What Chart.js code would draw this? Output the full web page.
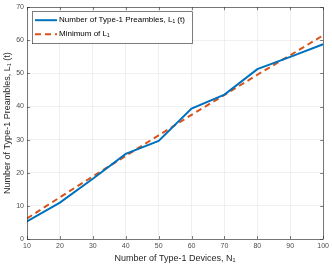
<!DOCTYPE html>
<html>
<head>
<meta charset="utf-8">
<script src="https://cdn.jsdelivr.net/npm/chart.js@4/dist/chart.umd.min.js"></script>
<style>
  html, body { margin: 0; padding: 0; background: #fff; }
  #wrap { width: 332px; height: 266px; position: relative; }
</style>
</head>
<body>
<div id="wrap"><canvas id="chart"></canvas></div>
<script>
// valeurs
const devices = [10, 20, 30, 40, 50, 60, 70, 80, 90, 100];
const preambles = [5.3, 11.0, 18.2, 25.7, 29.6, 39.4, 43.6, 51.3, 55.0, 58.8];
const minimumL1 = [6.2, 12.6, 18.9, 25.1, 31.3, 37.5, 43.5, 49.6, 55.5, 61.5];
const xTicks = [10, 20, 30, 40, 50, 60, 70, 80, 90, 100];
const yTicks = [0, 10, 20, 30, 40, 50, 60, 70];

const seriesNames = ['Number of Type-1 Preambles, L\u2081 (t)', 'Minimum of L\u2081'];

// cadre, petites graduations internes + légende façon MATLAB
const boxLegend = {
    id: 'boxLegend',
    afterDraw(chart) {
        const ctx = chart.ctx;
        const a = chart.chartArea;
        const sx = chart.scales.x, sy = chart.scales.y;
        ctx.save();
        ctx.strokeStyle = '#262626';
        ctx.lineWidth = 0.6;
        ctx.strokeRect(a.left + 0.5, a.top + 0.5, a.right - a.left, a.bottom - a.top);

        ctx.beginPath();
        xTicks.forEach(v => {
            const px = Math.round(sx.getPixelForValue(v)) + 0.5;
            ctx.moveTo(px, a.bottom); ctx.lineTo(px, a.bottom - 3);
            ctx.moveTo(px, a.top); ctx.lineTo(px, a.top + 3);
        });
        yTicks.forEach(v => {
            const py = Math.round(sy.getPixelForValue(v)) + 0.5;
            ctx.moveTo(a.left, py); ctx.lineTo(a.left + 3, py);
            ctx.moveTo(a.right, py); ctx.lineTo(a.right - 3, py);
        });
        ctx.stroke();

        const lx = a.left + 5, ly = a.top + 4, lw = 160, lh = 32;
        ctx.fillStyle = '#fff';
        ctx.fillRect(lx, ly, lw, lh);
        ctx.strokeStyle = '#262626';
        ctx.lineWidth = 0.6;
        ctx.strokeRect(lx + 0.5, ly + 0.5, lw, lh);

        ctx.font = '8px "Liberation Sans", Arial, sans-serif';
        ctx.textBaseline = 'middle';
        chart.data.datasets.forEach((ds, i) => {
            const y = ly + 9 + i * 14;
            ctx.beginPath();
            ctx.strokeStyle = ds.borderColor;
            ctx.lineWidth = 2;
            ctx.setLineDash(ds.borderDash || []);
            ctx.moveTo(lx + 3, y);
            ctx.lineTo(lx + 25, y);
            ctx.stroke();
            ctx.setLineDash([]);
            ctx.fillStyle = '#000';
            ctx.fillText(ds.label, lx + 27, y);
        });
        ctx.restore();
    }
};

new Chart(document.getElementById('chart'), {
    type: 'line',
    data: {
        labels: devices,
        datasets: [
            {
                label: seriesNames[0],
                data: devices.map((d, i) => ({ x: d, y: preambles[i] })),
                borderColor: '#0072BD',
                borderWidth: 2,
                pointRadius: 0,
                tension: 0,
                fill: false
            },
            {
                label: seriesNames[1],
                data: devices.map((d, i) => ({ x: d, y: minimumL1[i] })),
                borderColor: '#D95319',
                borderWidth: 2,
                borderDash: [6, 4],
                pointRadius: 0,
                tension: 0,
                fill: false
            }
        ]
    },
    options: {
        responsive: true,
        maintainAspectRatio: false,
        animation: false,
        layout: { padding: { left: 0, right: 7, top: 3, bottom: 2 } },
        plugins: {
            legend: { display: false },
            tooltip: { enabled: false }
        },
        scales: {
            x: {
                type: 'linear',
                min: 10,
                max: 100,
                afterBuildTicks: s => { s.ticks = xTicks.map(v => ({ value: v })); },
                afterFit: s => { s.height = 25; },
                grid: { color: '#e6e6e6', lineWidth: 0.6, drawTicks: false },
                border: { display: false },
                ticks: { color: '#4d4d4d', font: { size: 7, family: '"Liberation Sans", Arial, sans-serif' }, padding: 3, maxRotation: 0 },
                title: { display: true, text: 'Number of Type-1 Devices, N\u2081', color: '#262626', font: { size: 9, family: '"Liberation Sans", Arial, sans-serif' }, padding: 0 }
            },
            y: {
                min: 0,
                max: 70,
                afterBuildTicks: s => { s.ticks = yTicks.map(v => ({ value: v })); },
                afterFit: s => { s.width = 27; },
                grid: { color: '#e6e6e6', lineWidth: 0.6, drawTicks: false },
                border: { display: false },
                ticks: { color: '#4d4d4d', font: { size: 7, family: '"Liberation Sans", Arial, sans-serif' }, padding: 3 },
                title: { display: true, text: 'Number of Type-1 Preambles, L\u2081 (t)', color: '#262626', font: { size: 9, family: '"Liberation Sans", Arial, sans-serif' }, padding: { top: 2, bottom: 0 } }
            }
        }
    },
    plugins: [boxLegend]
});
</script>
</body>
</html>
